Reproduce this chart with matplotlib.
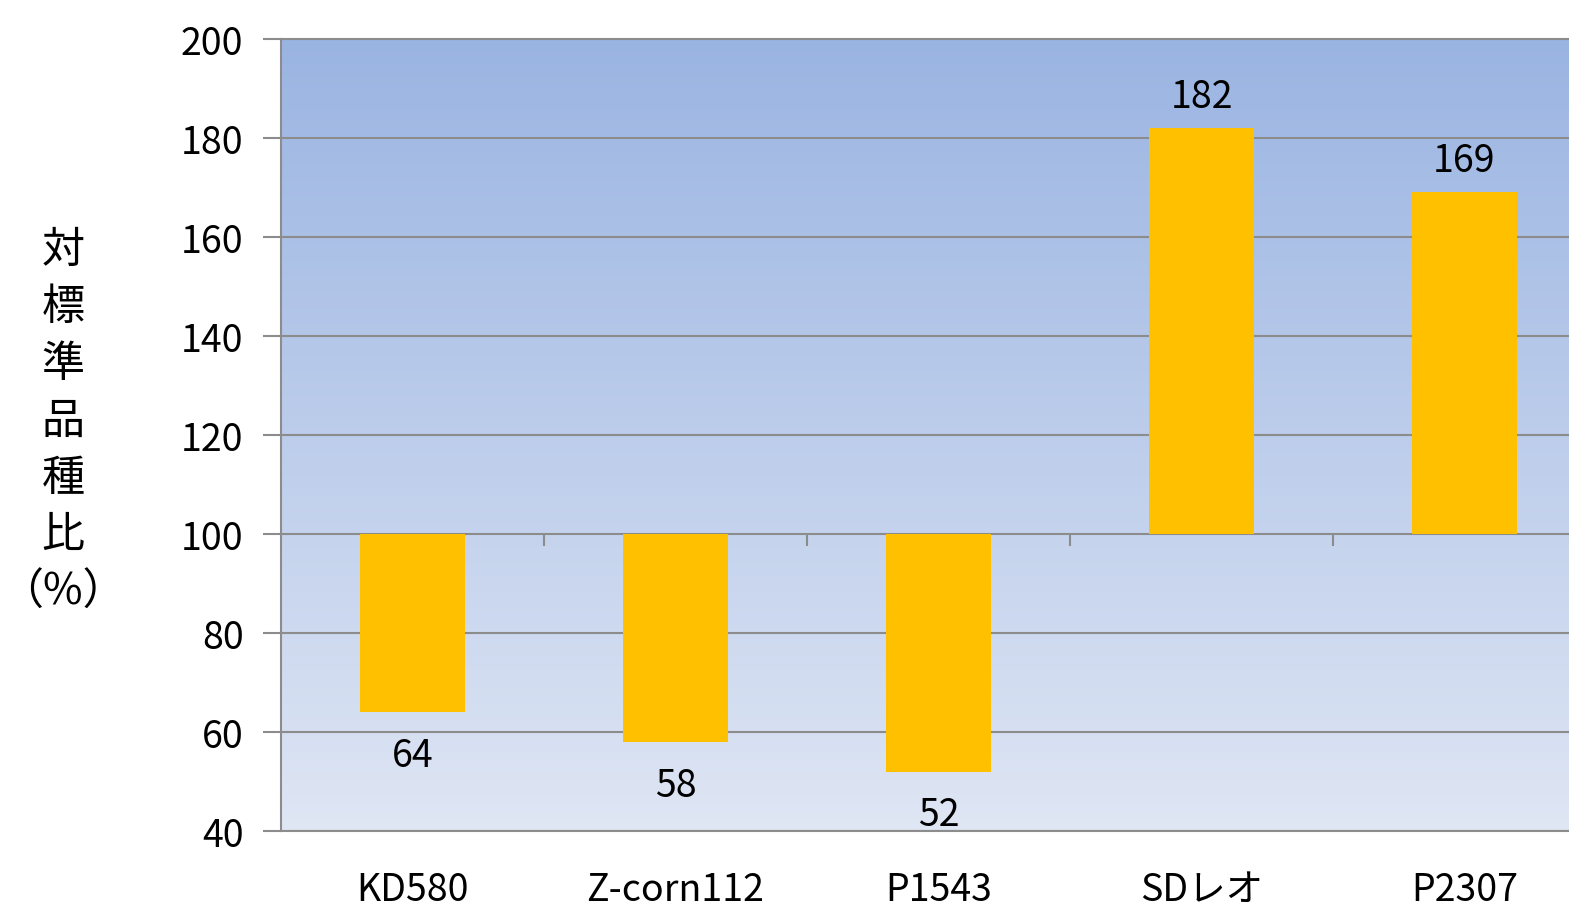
import numpy as np
import matplotlib.pyplot as plt
from matplotlib.colors import LinearSegmentedColormap

plt.rcParams['font.family'] = ['Noto Sans CJK JP', 'DejaVu Sans']

varieties = ['KD580', 'Z-corn112', 'P1543', 'SDレオ', 'P2307']
ratio = [64, 58, 52, 182, 169]
baseline = 100
yticks = [40, 60, 80, 100, 120, 140, 160, 180, 200]

grid_col = '#8c8c8c'
bar_col = '#FFC000'

fig = plt.figure(figsize=(15.69, 9.12), dpi=100)
# the plot area runs past the right edge of the picture, as in the original
ax = fig.add_axes([281/1569, 1 - 832/912, 1315/1569, 792/912])

x = np.arange(len(varieties))
ax.set_xlim(-0.5, len(varieties) - 0.5)
ax.set_ylim(40, 200)

# background gradient, darker blue on top
cmap = LinearSegmentedColormap.from_list('bg', ['#dfe6f4', '#9ab4e2'])
grad = np.linspace(0, 1, 256).reshape(-1, 1)
ax.imshow(grad, extent=[0, 1, 0, 1], transform=ax.transAxes, origin='lower',
          cmap=cmap, aspect='auto', zorder=0)

for yv in yticks:
    ax.axhline(yv, color=grid_col, lw=1.5, zorder=1)

heights = [v - baseline for v in ratio]
ax.bar(x, heights, bottom=baseline, width=0.4, color=bar_col, zorder=2)

# small ticks hanging from the 100 line between categories
ax.vlines(x[:-1] + 0.5, baseline - 2.4, baseline, color=grid_col, lw=1.5, zorder=1)

for xi, v in zip(x, ratio):
    if v >= baseline:
        ax.annotate(str(v), (xi, v), xytext=(0, 9), textcoords='offset points',
                    ha='center', va='bottom', fontsize=27)
    else:
        ax.annotate(str(v), (xi, v), xytext=(0, -17), textcoords='offset points',
                    ha='center', va='top', fontsize=27)

ax.set_yticks(yticks)
ax.set_yticklabels([str(t) for t in yticks], fontsize=27)
ax.tick_params(axis='y', length=13, width=1.5, color=grid_col, pad=14)
ax.set_xticks(x)
ax.set_xticklabels(varieties, fontsize=27)
ax.tick_params(axis='x', length=0, pad=28)

for side in ['left', 'bottom', 'top']:
    ax.spines[side].set_color(grid_col)
    ax.spines[side].set_linewidth(1.5)
ax.spines['right'].set_visible(False)

fig.text(63/1569, 1 - 422/912, '対\n標\n準\n品\n種\n比\n（%）', ha='center', va='center',
         fontsize=31, linespacing=1.38)

fig.savefig('out.png', dpi=100)
